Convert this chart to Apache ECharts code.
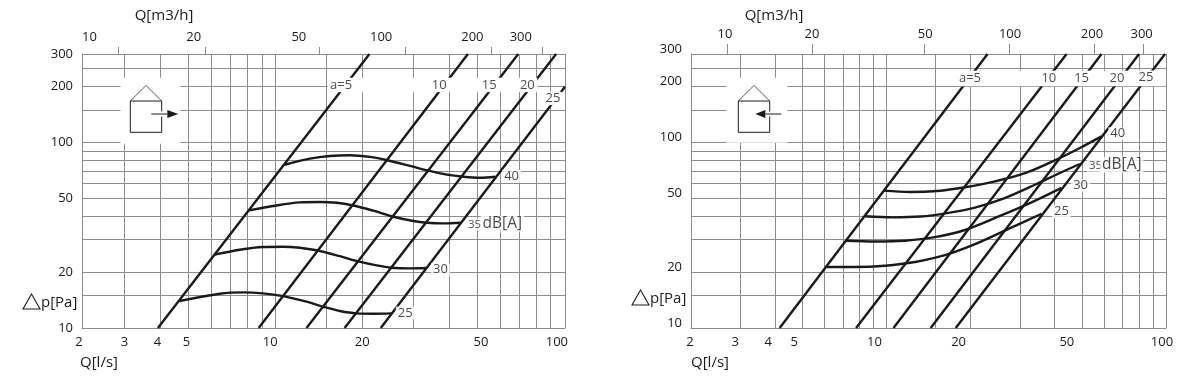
<!DOCTYPE html>
<html>
<head>
<meta charset="utf-8">
<style>
  html, body { margin: 0; background: #fff; }
  #chart { width: 1190px; height: 379px; }
</style>
<script src="https://cdn.jsdelivr.net/npm/echarts@6/dist/echarts.min.js"></script>
</head>
<body>
<div id="chart"></div>
<script>
// grid and label values
const pressureGrid = [10, 15, 20, 30, 40, 50, 60, 70, 80, 90, 100, 150, 200, 250, 300]
const pressureLabels = [10, 20, 50, 100, 200, 300]
const flowLabels = [3, 4, 5, 10, 20, 50, 100]
const flowGrid = [3, 4, 5, 6, 7, 8, 9, 10, 15, 20, 30, 40, 50, 60, 70, 80, 90]
const hourLabels = [10, 20, 50, 100, 200, 300]

// left chart: duct lines a=5..25 [Q l/s, dp Pa]
const leftA5 = [[3.92, 10], [21.2, 300]]
const leftA10 = [[8.76, 10], [46.5, 300]]
const leftA15 = [[12.83, 10], [69.5, 300]]
const leftA20 = [[17.39, 10], [94.0, 300]]
const leftA25 = [[23.2, 10], [100.9, 200]]

// left chart: noise curves
const leftDb25 = [[4.66, 13.98], [6.42, 15.31], [7.73, 15.56], [9.07, 15.37], [10.64, 14.86], [12.83, 13.86], [14.66, 13.02], [16.75, 12.35], [19.14, 11.99], [21.86, 11.94], [25.3, 11.99]]
const leftDb30 = [[6.16, 24.84], [7.53, 26.43], [9.07, 27.33], [10.64, 27.43], [12.16, 27.1], [13.9, 26.24], [16.75, 24.38], [19.39, 22.86], [22.46, 21.75], [25.3, 21.14], [29.31, 20.96], [33.3, 21.06]]
const leftDb35 = [[8.11, 43.05], [9.83, 45.47], [12.16, 47.54], [14.27, 47.78], [16.31, 47.37], [18.63, 45.75], [21.86, 42.88], [25.65, 39.8], [30.1, 37.75], [33.5, 36.96], [38.25, 36.64], [43.95, 36.96]]
const leftDb40 = [[10.79, 75.9], [13.18, 81.8], [15.46, 84.6], [18.14, 85.3], [21.28, 83.6], [24.64, 80.0], [29.31, 74.8], [33.9, 70.5], [39.3, 67.1], [44.9, 65.4], [51.3, 64.6], [57.8, 65.4]]

// right chart: duct lines
const rightA5 = [[4.15, 10], [23.0, 300]]
const rightA10 = [[7.79, 10], [44.1, 300]]
const rightA15 = [[10.6, 10], [58.8, 300]]
const rightA20 = [[14.4, 10], [80.1, 300]]
const rightA25 = [[17.7, 10], [99.2, 300]]

// right chart: noise curves
const rightDb25 = [[6.04, 21.33], [7.73, 21.33], [9.89, 21.67], [12.66, 22.69], [16.2, 24.69], [20.74, 28.3], [27.2, 34.1], [35.9, 41.3]]
const rightDb30 = [[7.18, 29.55], [9.11, 29.25], [11.66, 29.55], [14.92, 30.87], [19.1, 33.75], [25.47, 40.17], [32.6, 47.1], [42.3, 56.9]]
const rightDb35 = [[8.39, 40.07], [10.57, 39.5], [13.2, 39.9], [16.48, 41.65], [20.74, 44.6], [26.5, 50.2], [33.97, 59.2], [41.7, 68.5], [49.2, 76.6]]
const rightDb40 = [[9.75, 55.0], [12.15, 54.1], [15.17, 54.8], [19.1, 57.4], [24.45, 61.7], [31.28, 68.3], [41.7, 82.5], [49.2, 93.4], [58.8, 107.9]]

// on-chart labels [Q, dp, text]
const leftNotes = [[16.9, 202.4, 'a=5'], [36.97, 202.4, '10'], [55.1, 202.4, '15'], [74.7, 202.4, '20'], [91.7, 172.2, '25'], [65.9, 65.8, '40'], [37.35, 20.6, '30'], [28.2, 12.05, '25']]
const leftSmallNote = [[49.0, 36.1, '35']]
const leftUnitNote = [[61.2, 36.5, 'dB[A]']]
const rightNotes = [[19.9, 221.6, 'a=5'], [38.1, 221.6, '10'], [49.9, 221.6, '15'], [66.8, 221.6, '20'], [84.8, 225, '25'], [67.2, 111.5, '40'], [49.5, 58.5, '30'], [42.3, 42.4, '25']]
const rightSmallNote = [[56.0, 75, '35']]
const rightUnitNote = [[69.5, 75.9, 'dB[A]']]

// white cut-outs behind labels and icon [Q0, Q1, dp0, dp1]
const leftMasks = [[15.2, 80.9, 187.9, 223.6], [86.2, 98.0, 159.9, 187.9], [2.91, 4.70, 98.5, 223.6]]
const rightMasks = [[18.03, 99.0, 201.2, 243.8], [2.68, 4.42, 99.7, 223.6]]

const FONT = '"Open Sans", sans-serif'
const GRID_COLOR = '#8c8c8c'
const INK = '#1a1a1a'
const TICK_SIZE = 13

// rich text per label so a label can sit off its tick like in the drawing
function shiftedLabels(shifts) {
  const rich = {}
  Object.keys(shifts).forEach(k => {
    const s = shifts[k]
    rich['v' + k] = { padding: s < 0 ? [0, -2 * s, 0, 0] : [0, 0, 0, 2 * s], fontFamily: FONT, fontSize: TICK_SIZE, color: INK }
  })
  return {
    rich,
    formatter: v => {
      const k = Math.round(v)
      return `{v${k}|${k}}`
    },
  }
}

function bottomAxis(gridIndex, min, max, shifts) {
  return {
    type: 'log', gridIndex, position: 'bottom', min, max, logBase: 10,
    axisLine: { show: true, lineStyle: { color: GRID_COLOR, width: 1 } },
    axisTick: { show: false, customValues: [min, ...flowGrid, max] },
    splitLine: { show: true, lineStyle: { color: GRID_COLOR, width: 1 } },
    minorTick: { show: false },
    axisLabel: { show: true, margin: 8, customValues: [min, ...flowLabels], hideOverlap: false, showMinLabel: true, showMaxLabel: true, ...shiftedLabels(shifts) },
  }
}

function topAxis(gridIndex, min, max, tickLen, margin, shifts) {
  return {
    type: 'log', gridIndex, position: 'top', min, max, logBase: 10,
    axisLine: { show: false },
    axisTick: { show: true, length: tickLen, customValues: hourLabels, lineStyle: { color: GRID_COLOR, width: 1 } },
    splitLine: { show: false },
    axisLabel: { show: true, margin, customValues: hourLabels, hideOverlap: false, ...shiftedLabels(shifts) },
  }
}

function leftAxis(gridIndex, raise) {
  return {
    type: 'log', gridIndex, min: 10, max: 300, logBase: 10,
    axisLine: { show: true, lineStyle: { color: GRID_COLOR, width: 1 } },
    axisTick: { show: false, customValues: pressureGrid },
    splitLine: { show: true, lineStyle: { color: GRID_COLOR, width: 1 } },
    axisLabel: {
      show: true, margin: 9, customValues: pressureLabels, hideOverlap: false, showMinLabel: true, showMaxLabel: true,
      formatter: v => `{v|${Math.round(v)}}`,
      rich: { v: { padding: [0, 0, raise, 0], fontFamily: FONT, fontSize: TICK_SIZE, color: INK } },
    },
  }
}

function curve(data, axis) {
  return {
    type: 'line', data, xAxisIndex: axis.x, yAxisIndex: axis.y, z: 2,
    smooth: 0.33, symbol: 'none', silent: true,
    lineStyle: { color: INK, width: 2.4 },
  }
}

function straight(data, axis) {
  return { ...curve(data, axis), smooth: false }
}

function maskSeries(data, axis) {
  return {
    type: 'custom', data, xAxisIndex: axis.x, yAxisIndex: axis.y, z: 3, silent: true, clip: true,
    encode: { x: [0, 1], y: [2, 3] },
    renderItem: (params, api) => {
      const a = api.coord([api.value(0), api.value(3)])
      const b = api.coord([api.value(1), api.value(2)])
      return { type: 'rect', shape: { x: a[0], y: a[1], width: b[0] - a[0], height: b[1] - a[1] }, style: { fill: '#fff' } }
    },
  }
}

function noteSeries(data, axis, fontSize) {
  return {
    type: 'scatter', data, xAxisIndex: axis.x, yAxisIndex: axis.y, z: 4, silent: true,
    symbolSize: 0,
    label: {
      show: true, position: 'inside', formatter: p => p.value[2],
      fontFamily: FONT, fontSize, color: INK,
      backgroundColor: '#fff', padding: [0, 2],
    },
  }
}

function notesFor(axis, notes, small, unit) {
  return [noteSeries(notes, axis, TICK_SIZE), noteSeries(small, axis, 11.5), noteSeries(unit, axis, 15.5)]
}

function title(x, y, text) {
  return { type: 'text', x, y, z: 20, style: { text, fontFamily: FONT, fontSize: 15, fill: INK, align: 'center', verticalAlign: 'middle' } }
}

function pressureTitle(x, y) {
  return {
    type: 'group', x, y, children: [
      { type: 'polygon', z: 20, shape: { points: [[8.5, -9], [0, 6], [17, 6]] }, style: { fill: 'none', stroke: INK, lineWidth: 1.1 } },
      { type: 'text', z: 20, x: 18, y: 0, style: { text: 'p[Pa]', fontFamily: FONT, fontSize: 15, fill: INK, verticalAlign: 'middle' } },
    ],
  }
}

// house symbol with the air direction arrow
function house(x, pointsOut) {
  const line = { stroke: INK, lineWidth: 1, fill: 'none' }
  const arrow = pointsOut
    ? [{ type: 'line', z: 20, shape: { x1: 21, y1: 28.5, x2: 37, y2: 28.5 }, style: line },
       { type: 'polygon', z: 20, shape: { points: [[37, 24.5], [48, 28.5], [37, 32.5]] }, style: { fill: INK } }]
    : [{ type: 'line', z: 20, shape: { x1: 27, y1: 28.5, x2: 43, y2: 28.5 }, style: line },
       { type: 'polygon', z: 20, shape: { points: [[27, 24.5], [17, 28.5], [27, 32.5]] }, style: { fill: INK } }]
  return {
    type: 'group', x, y: 85.5, children: [
      { type: 'polyline', z: 20, shape: { points: [[0, 15.5], [15.7, 0], [31.4, 15.5]] }, style: { ...line, stroke: '#555' } },
      { type: 'polyline', z: 20, shape: { points: [[31.4, 26], [31.4, 15.5], [0, 15.5], [0, 46.8], [31.4, 46.8], [31.4, 31]] }, style: line },
      ...arrow,
    ],
  }
}

const L = { x: 0, y: 0 }
const R = { x: 2, y: 1 }

const chart = echarts.init(document.getElementById('chart'), null, { renderer: 'canvas' })
chart.setOption({
  animation: false,
  backgroundColor: '#fff',
  grid: [
    { left: 82, top: 54, width: 483, height: 274 },
    { left: 691, top: 54, width: 475, height: 274 },
  ],
  xAxis: [
    bottomAxis(0, 2.14, 100.9, { 2: -3, 3: 0, 4: -3, 5: -2, 10: -5, 20: 0, 50: 4, 100: -7 }),
    topAxis(0, 7.457, 361.4, 7, 10, { 10: -29, 20: -11, 50: -20, 100: -24, 200: -19, 300: -21 }),
    bottomAxis(1, 2, 100, { 2: -1, 3: -5, 4: -7, 5: -8, 10: -12, 20: -12, 50: -15, 100: -4 }),
    topAxis(1, 7.453, 360.2, 10, 13, { 10: -2, 20: 0, 50: 1, 100: 1, 200: -2, 300: -2 }),
  ],
  yAxis: [leftAxis(0, 0), leftAxis(1, 10)],
  series: [
    straight(leftA5, L), straight(leftA10, L), straight(leftA15, L), straight(leftA20, L), straight(leftA25, L),
    curve(leftDb25, L), curve(leftDb30, L), curve(leftDb35, L), curve(leftDb40, L),
    maskSeries(leftMasks, L),
    ...notesFor(L, leftNotes, leftSmallNote, leftUnitNote),
    straight(rightA5, R), straight(rightA10, R), straight(rightA15, R), straight(rightA20, R), straight(rightA25, R),
    curve(rightDb25, R), curve(rightDb30, R), curve(rightDb35, R), curve(rightDb40, R),
    maskSeries(rightMasks, R),
    ...notesFor(R, rightNotes, rightSmallNote, rightUnitNote),
  ],
  graphic: [
    title(164, 16, 'Q[m3/h]'),
    title(774, 16, 'Q[m3/h]'),
    title(99, 363, 'Q[l/s]'),
    title(710, 363, 'Q[l/s]'),
    pressureTitle(23, 303),
    pressureTitle(632, 299),
    house(130.3, true),
    house(738.3, false),
  ],
})
</script>
</body>
</html>
